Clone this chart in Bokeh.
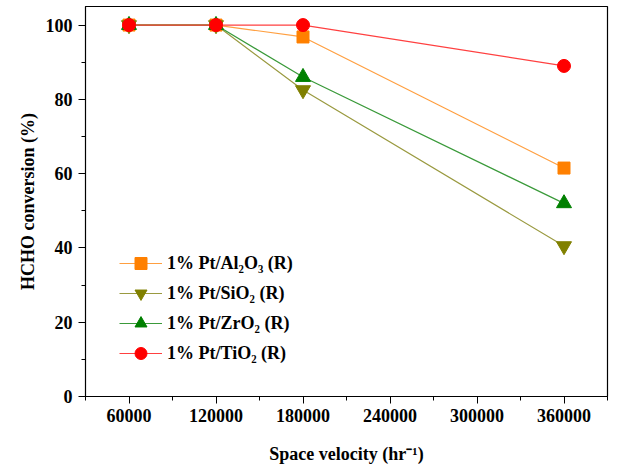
from bokeh.plotting import figure
from bokeh.models import Range1d, FixedTicker, NumeralTickFormatter, Legend, LegendItem
from bokeh.embed import file_html
from bokeh.resources import INLINE

space_velocity = [60000, 120000, 180000, 360000]
al2o3 = [100, 100, 96.8, 61.5]
sio2 = [100, 100, 82.5, 40.5]
zro2 = [100, 100, 86.0, 52.0]
tio2 = [100, 100, 100, 89.0]

x_ticks = [60000, 120000, 180000, 240000, 300000, 360000]
x_minor = [30000, 90000, 150000, 210000, 270000, 330000, 390000]
y_ticks = [0, 20, 40, 60, 80, 100]
y_minor = [10, 30, 50, 70, 90]

series = [
    ("1% Pt/Al₂O₃ (R)", al2o3, "#FF8000", "#FF9F40", "square", 12),
    ("1% Pt/SiO₂ (R)", sio2, "#808000", "#9A9A40", "inverted_triangle", 15),
    ("1% Pt/ZrO₂ (R)", zro2, "#008000", "#3A9A3A", "triangle", 15),
    ("1% Pt/TiO₂ (R)", tio2, "#FF0000", "#FF4040", "circle", 13),
]

FONT = "Liberation Serif"

p = figure(width=618, height=467, output_backend="svg", toolbar_location=None,
           x_range=Range1d(30000, 390000), y_range=Range1d(0, 105),
           min_border_left=85, min_border_right=11, min_border_top=6, min_border_bottom=71)
p.grid.visible = False
p.outline_line_color = "black"
p.outline_line_width = 1.2
p.background_fill_color = "white"
p.border_fill_color = "white"

p.xaxis.ticker = FixedTicker(ticks=x_ticks, minor_ticks=x_minor)
p.yaxis.ticker = FixedTicker(ticks=y_ticks, minor_ticks=y_minor)
p.xaxis.formatter = NumeralTickFormatter(format="0")
for ax in (p.xaxis, p.yaxis):
    ax.axis_line_color = "black"
    ax.major_tick_line_color = "black"
    ax.minor_tick_line_color = "black"
    ax.major_tick_in = 0
    ax.major_tick_out = 7
    ax.minor_tick_in = 0
    ax.minor_tick_out = 4
    ax.major_label_text_font = FONT
    ax.major_label_text_font_style = "bold"
    ax.major_label_text_font_size = "18px"
    ax.major_label_text_color = "black"
    ax.axis_label_text_font = FONT
    ax.axis_label_text_font_style = "bold"
    ax.axis_label_text_font_size = "18px"
    ax.axis_label_text_color = "black"
p.xaxis.axis_label = "Space velocity (hr⁻¹)"
p.yaxis.axis_label = "HCHO conversion (%)"
p.xaxis.major_label_standoff = 5
p.xaxis.axis_label_standoff = 19
p.yaxis.major_label_standoff = 6
p.yaxis.axis_label_standoff = 5

items = []
for label, ys, col, lcol, marker, size in series:
    ln = p.line(space_velocity, ys, line_color=lcol, line_width=1.2)
    sc = p.scatter(space_velocity, ys, marker=marker, size=size,
                   fill_color=col, line_color=col)
    items.append(LegendItem(label=label, renderers=[ln, sc]))

legend = Legend(items=items, location=(34, 28), padding=0, margin=0,
                spacing=0, glyph_width=43, glyph_height=30, label_height=30,
                label_standoff=5, border_line_alpha=0, background_fill_alpha=0,
                label_text_font=FONT, label_text_font_style="bold",
                label_text_font_size="18px", label_text_color="black")
p.add_layout(legend, "center")

open("out.html", "w").write(file_html(p, INLINE))
